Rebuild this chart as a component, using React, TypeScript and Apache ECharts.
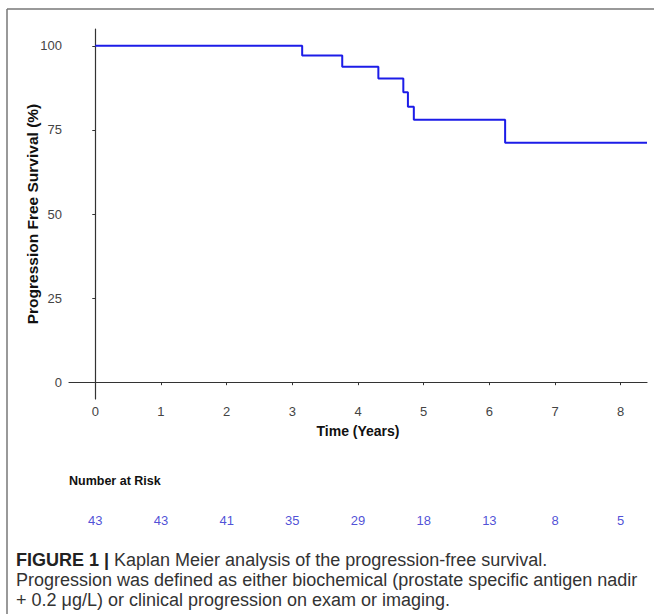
import React, { useEffect, useRef } from "react";
import * as echarts from "echarts";

const eventTimes = [0, 3.15, 3.76, 4.31, 4.69, 4.76, 4.85, 6.24, 8.4];
const survival = [100, 97.1, 93.8, 90.3, 86.2, 81.9, 78.0, 71.2, 71.2];
const xTicks = [0, 1, 2, 3, 4, 5, 6, 7, 8];
const yTicks = [0, 25, 50, 75, 100];
const riskTimes = [0, 1, 2, 3, 4, 5, 6, 7, 8];
const atRisk = [43, 43, 41, 35, 29, 18, 13, 8, 5];
const captionLines = [
  "Progression was defined as either biochemical (prostate specific antigen nadir",
  "+ 0.2 \u03bcg/L) or clinical progression on exam or imaging.",
];

const FONT = "'Liberation Sans', Arial, sans-serif";

export default function App() {
  const ref = useRef<HTMLDivElement>(null);
  useEffect(() => {
    if (!ref.current) return;
    const chart = echarts.init(ref.current, null, { renderer: "svg" });
    chart.setOption({
      animation: false,
      backgroundColor: "#fff",
      textStyle: { fontFamily: FONT },
      grid: [
        { left: 69, top: 29, width: 578, height: 370 },
        { left: 69, top: 510, width: 578, height: 20 },
      ],
      xAxis: [
        {
          type: "value",
          gridIndex: 0,
          min: -0.4,
          max: 8.4,
          axisLine: { show: true, lineStyle: { color: "#333", width: 1.2 } },
          axisTick: { show: true, customValues: xTicks, length: 3, lineStyle: { color: "#333" } },
          axisLabel: { customValues: xTicks, color: "#444", fontSize: 13, margin: 6, fontFamily: FONT },
          splitLine: { show: false },
          name: "Time (Years)",
          nameLocation: "middle",
          nameGap: 25,
          nameTextStyle: { fontWeight: "bold", fontSize: 14, color: "#111", fontFamily: FONT },
        },
        {
          type: "value",
          gridIndex: 1,
          min: -0.4,
          max: 8.4,
          show: false,
        },
      ],
      yAxis: [
        {
          type: "value",
          gridIndex: 0,
          min: -5,
          max: 105,
          axisLine: { show: true, lineStyle: { color: "#333", width: 1.2 } },
          axisTick: { show: true, customValues: yTicks, length: 3, lineStyle: { color: "#333" } },
          axisLabel: { customValues: yTicks, color: "#444", fontSize: 13, margin: 7, fontFamily: FONT },
          splitLine: { show: false },
          name: "Progression Free Survival (%)",
          nameLocation: "middle",
          nameGap: 29,
          nameMoveOverlap: false,
          nameTextStyle: { fontWeight: "bold", fontSize: 15.5, color: "#111", fontFamily: FONT },
        },
        { type: "value", gridIndex: 1, min: 0, max: 1, show: false },
      ],
      series: [
        {
          type: "line",
          xAxisIndex: 0,
          yAxisIndex: 0,
          step: "end",
          symbol: "none",
          data: eventTimes.map((t, i) => [t, survival[i]]),
          lineStyle: { color: "#1c1ce8", width: 2 },
        },
        {
          type: "scatter",
          xAxisIndex: 1,
          yAxisIndex: 1,
          symbolSize: 1,
          itemStyle: { color: "rgba(0,0,0,0)" },
          data: riskTimes.map((t, i) => [t, 0.5, atRisk[i]]),
          label: {
            show: true,
            position: "inside",
            formatter: (p: any) => String(p.value[2]),
            color: "#2222cc",
            fontSize: 13,
            fontFamily: FONT,
          },
        },
      ],
      graphic: [
        { type: "line", shape: { x1: 7, y1: 9, x2: 654, y2: 9 }, style: { stroke: "#777", lineWidth: 1.5 } },
        { type: "line", shape: { x1: 7, y1: 9, x2: 7, y2: 614 }, style: { stroke: "#777", lineWidth: 1.5 } },
        {
          type: "text",
          x: 69,
          y: 481,
          style: { text: "Number at Risk", fill: "#111", font: `bold 12.5px ${FONT}`, verticalAlign: "middle" },
        },
        {
          type: "text",
          x: 16,
          y: 560,
          style: {
            text: "{b|FIGURE 1 |} Kaplan Meier analysis of the progression-free survival.",
            fill: "#333",
            fontSize: 18,
            fontFamily: FONT,
            verticalAlign: "middle",
            rich: {
              b: { fontWeight: "bold", fontSize: 18, fill: "#222", fontFamily: FONT },
            },
          },
        },
        {
          type: "text",
          x: 16,
          y: 580,
          style: { text: captionLines[0], fill: "#333", fontSize: 18, fontFamily: FONT, verticalAlign: "middle" },
        },
        {
          type: "text",
          x: 16,
          y: 600,
          style: { text: captionLines[1], fill: "#333", fontSize: 18, fontFamily: FONT, verticalAlign: "middle" },
        },
      ],
    });
    return () => chart.dispose();
  }, []);
  return (
    <div
      ref={ref}
      style={{ position: "fixed", left: 0, top: 0, width: 654, height: 614, background: "#fff" }}
    />
  );
}
